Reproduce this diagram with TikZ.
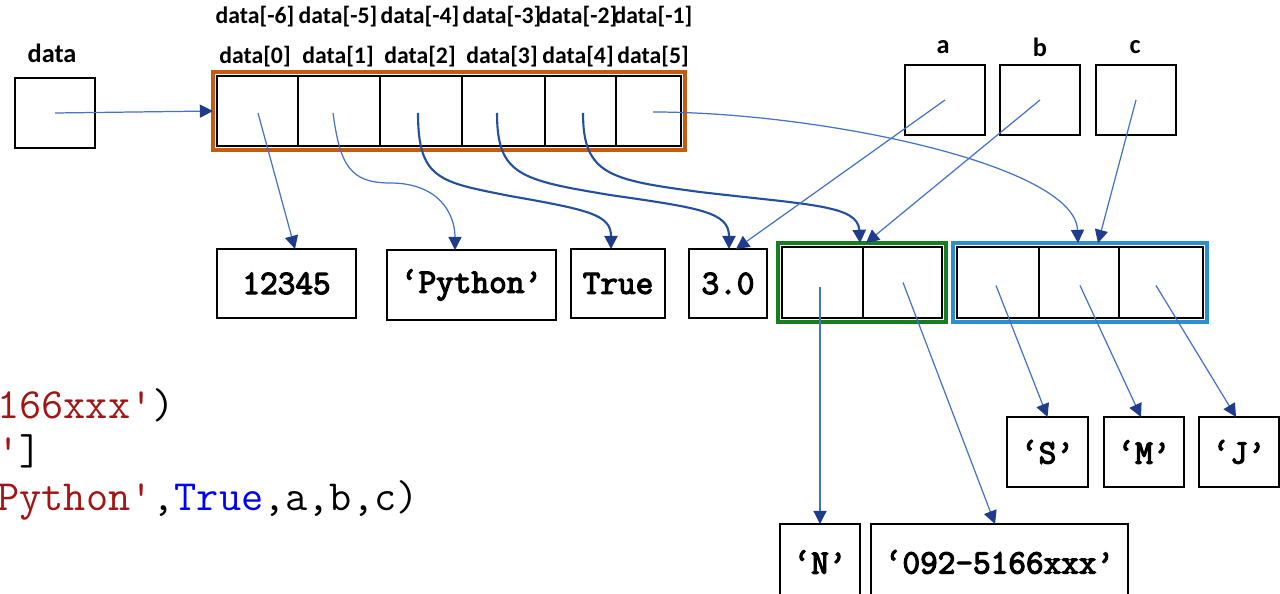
\documentclass[tikz,border=0pt]{standalone}
\usepackage{fontspec}
\setmainfont{Carlito}
\newfontfamily\valfont{Latin Modern Mono}[FakeBold=3.5]
\usetikzlibrary{arrows.meta,calc}

\definecolor{arrframe}{HTML}{C55A11}
\definecolor{tupframe}{HTML}{177E1F}
\definecolor{lstframe}{HTML}{2B8FD0}
\definecolor{reflight}{HTML}{4472C4}
\definecolor{refdark}{HTML}{234F9E}
\definecolor{tipcol}{HTML}{1F3C8C}
\definecolor{codered}{HTML}{A31515}
\definecolor{codeblue}{HTML}{0000FF}

\tikzset{
  cw/.style={minimum width=#1*0.02cm},
  ch/.style={minimum height=#1*0.02cm},
  cellbox/.style={draw=black, line width=1.1pt, inner sep=0pt, outer sep=0pt},
  valbox/.style={cellbox, font=\valfont\fontsize{19.5}{21}\selectfont},
  namelbl/.style={font=\bfseries\fontsize{15}{17}\selectfont, inner sep=0pt},
  idxlbl/.style={font=\bfseries\fontsize{13.5}{16}\selectfont, inner sep=0pt},
  codeln/.style={font=\ttfamily\fontsize{24.5}{26}\selectfont, inner sep=0pt, anchor=base west},
  tip/.style={-{Triangle[length=7.5pt,width=7.5pt,color=tipcol]}},
  lt/.style={tip, draw=reflight, line width=0.7pt},
  dk/.style={tip, draw=refdark, line width=1.2pt},
}

\begin{document}
\begin{tikzpicture}[x=0.02cm, y=-0.02cm]
\useasboundingbox (0,0) rectangle (1280,594);
\clip (0,0) rectangle (1280,594);

% variable "data"
\node[namelbl] (datalbl) at (52,53) {data};
\node[cellbox, cw=80, ch=70] (data) at (55,113) {};

% the tuple referenced by data
\node[cellbox, cw=81, ch=70] (c0) at (257.5,111) {};
\node[cellbox, cw=82, ch=70] (c1) at (339,111) {};
\node[cellbox, cw=82, ch=70] (c2) at (421,111) {};
\node[cellbox, cw=83, ch=70] (c3) at (503.5,111) {};
\node[cellbox, cw=71, ch=70] (c4) at (580.5,111) {};
\node[cellbox, cw=65, ch=70] (c5) at (648.5,111) {};
\draw[arrframe, line width=2.3pt] ($(c0.north west)+(-4,-4)$) rectangle ($(c5.south east)+(4,4)$);

% positive and negative indices
\node[idxlbl] (p0) at (255,57) {data[0]};
\node[idxlbl] (p1) at (338,57) {data[1]};
\node[idxlbl] (p2) at (420,57) {data[2]};
\node[idxlbl] (p3) at (502,57) {data[3]};
\node[idxlbl] (p4) at (578,57) {data[4]};
\node[idxlbl] (p5) at (653,57) {data[5]};
\node[idxlbl] (m6) at (255,17) {data[-6]};
\node[idxlbl] (m5) at (338,17) {data[-5]};
\node[idxlbl] (m4) at (420,17) {data[-4]};
\node[idxlbl] (m3) at (502,17) {data[-3]};
\node[idxlbl] (m2) at (578,17) {data[-2]};
\node[idxlbl] (m1) at (653,17) {data[-1]};

% variables a, b, c
\node[namelbl] (albl) at (943,47) {a};
\node[namelbl] (blbl) at (1040,47) {b};
\node[namelbl] (clbl) at (1135,47) {c};
\node[cellbox, cw=80, ch=70] (a) at (945,100) {};
\node[cellbox, cw=80, ch=70] (b) at (1040,100) {};
\node[cellbox, cw=80, ch=70] (c) at (1136,100) {};

% element values
\node[valbox, cw=139, ch=69] (v1) at (286.5,283.5) {12345};
\node[valbox, cw=169, ch=70] (vpy) at (471.5,285) {‘Python’};
\node[valbox, cw=94, ch=69] (vtrue) at (618,283.5) {True};
\node[valbox, cw=78, ch=69] (v30) at (728,283.5) {3.0};

% tuple b
\node[cellbox, cw=81, ch=71] (g0) at (822.5,282.5) {};
\node[cellbox, cw=79, ch=71] (g1) at (902.5,282.5) {};
\draw[tupframe, line width=2.3pt] ($(g0.north west)+(-4,-4)$) rectangle ($(g1.south east)+(4,4)$);

% list c
\node[cellbox, cw=82, ch=71] (b0) at (998,282.5) {};
\node[cellbox, cw=80, ch=71] (b1) at (1079,282.5) {};
\node[cellbox, cw=84, ch=71] (b2) at (1161,282.5) {};
\draw[lstframe, line width=1.8pt] ($(b0.north west)+(-4,-4)$) rectangle ($(b2.south east)+(4,4)$);

% strings inside b and c
\node[valbox, cw=81, ch=70] (vs) at (1047.5,452) {‘S’};
\node[valbox, cw=80, ch=70] (vm) at (1144,452) {‘M’};
\node[valbox, cw=80, ch=70] (vj) at (1239,452) {‘J’};
\node[valbox, cw=80, ch=76] (vn) at (820,562) {‘N’};
\node[valbox, cw=257, ch=76] (vtel) at (999.5,562) {‘092-5166xxx’};

% source code lines
\node[codeln] (l1) at (-3,418) {\textcolor{codered}{166xxx'})};
\node[codeln] (l2) at (-3,464) {\textcolor{codered}{'}]};
\node[codeln] (l3) at (-3,510) {\textcolor{codered}{Python'},\textcolor{codeblue}{True},a,b,c)};

% references
\draw[lt] (data.center) -- ($(c0.west)+(-4,0)$);
\draw[lt] ($(c0.center)+(0.5,2)$) -- ($(v1.north)+(8.5,0)$);
\draw[lt] ($(c1.center)+(-6,2)$) .. controls (340,165) and (350,183) .. (390,183)
  .. controls (440,183) and (455,215) .. ($(vpy.north)+(-16.5,0)$);
\draw[dk] ($(c2.center)+(-3,2)$) .. controls (418,180) and (440,182) .. (510,196)
  .. controls (590,210) and (611,215) .. ($(vtrue.north)+(-7,0)$);
\draw[dk] ($(c3.center)+(-6.5,2)$) .. controls (497,175) and (520,180) .. (610,195)
  .. controls (700,208) and (729,212) .. ($(v30.north)+(1,0)$);
\draw[dk] ($(c4.center)+(2.5,2)$) .. controls (583,175) and (610,180) .. (700,192)
  .. controls (810,205) and (858,205) .. ($(g0.north east)+(-3,-4)$);
\draw[lt] ($(c5.center)+(4.5,1)$) .. controls (820,112) and (1075,165) .. ($(b1.north)+(-1,-4)$);
\draw[lt] (a.center) -- ($(v30.north)+(8,0)$);
\draw[lt] (b.center) -- ($(g1.north west)+(3,-4)$);
\draw[lt] (c.center) -- ($(b1.north)+(19,-4)$);
\draw[lt] ($(g0.center)+(-2.5,5)$) -- (vn.north);
\draw[lt] ($(g1.center)+(0.5,0)$) -- ($(vtel.north)+(-4.5,0)$);
\draw[lt] ($(b0.center)+(-2,3)$) -- (vs.north);
\draw[lt] ($(b1.center)+(1,3)$) -- ($(vm.north)+(-3,0)$);
\draw[lt] ($(b2.center)+(-5,3)$) -- ($(vj.north)+(-3,0)$);
\end{tikzpicture}
\end{document}
